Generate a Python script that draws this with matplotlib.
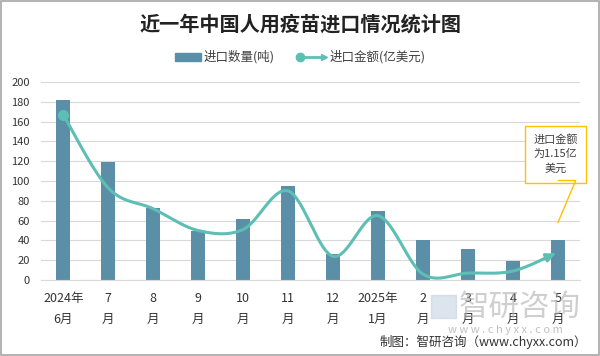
import numpy as np
import matplotlib
matplotlib.use("Agg")
import matplotlib.pyplot as plt
from matplotlib.patches import Rectangle, Polygon
from matplotlib.lines import Line2D

plt.rcParams['font.family'] = ['Noto Sans CJK SC', 'DejaVu Sans']

# data
months = ["2024年\n6月", "7\n月", "8\n月", "9\n月", "10\n月", "11\n月", "12\n月",
          "2025年\n1月", "2\n月", "3\n月", "4\n月", "5\n月"]
qty = [182, 119, 73, 50, 62, 95, 26, 70, 40, 31, 19, 40]          # 进口数量(吨)
amount = [167, 93, 72, 50, 51, 90, 24, 65, 6, 7, 9, 28]           # 进口金额 curve (as drawn)

BAR_C = "#5B8FA8"
LINE_C = "#5DBFB4"


def smooth(xs, ys, n=30):
    # Catmull-Rom spline, only for drawing the smoothed line
    p = np.column_stack([xs, ys]).astype(float)
    p = np.vstack([p[0], p, p[-1]])
    out = []
    for i in range(1, len(p) - 2):
        p0, p1, p2, p3 = p[i - 1], p[i], p[i + 1], p[i + 2]
        t = np.linspace(0, 1, n, endpoint=False)[:, None]
        seg = 0.5 * ((2 * p1) + (-p0 + p2) * t + (2 * p0 - 5 * p1 + 4 * p2 - p3) * t ** 2
                     + (-p0 + 3 * p1 - 3 * p2 + p3) * t ** 3)
        out.append(seg)
    out.append(p[-2][None, :])
    out = np.vstack(out)
    return out[:, 0], out[:, 1]


def fy(py):
    # pixel row (from top) -> figure fraction
    return 1 - py / 356


fig = plt.figure(figsize=(6, 3.56), dpi=100)
ax = fig.add_axes([0.068, 0.2135, 0.899, 0.556])

x = np.arange(len(months))
ax.bar(x, qty, width=0.31, color=BAR_C, zorder=2)

sx, sy = smooth(x, amount)
ax.plot(sx[:-6], sy[:-6], color=LINE_C, lw=2.2, solid_capstyle="round", zorder=3)
ax.annotate("", xy=(x[-1], amount[-1]), xytext=(sx[-8], sy[-8]),
            arrowprops=dict(arrowstyle="-|>,head_length=0.5,head_width=0.25",
                            color=LINE_C, lw=2.2), zorder=3)
ax.plot([x[0]], [amount[0]], "o", color=LINE_C, ms=7, zorder=4)

ax.set_xlim(-0.5, len(months) - 0.5)
ax.set_ylim(0, 200)
ax.set_yticks(range(0, 201, 20))
ax.set_xticks(x)
ax.set_xticklabels(months, fontsize=9, color="#333333", linespacing=1.75)
ax.tick_params(axis="y", labelsize=8, colors="#333333", length=0, pad=8)
ax.tick_params(axis="x", length=0, pad=9)
ax.grid(axis="y", color="#D9D9D9", lw=0.8, zorder=0)
for s in ["top", "right", "left"]:
    ax.spines[s].set_visible(False)
ax.spines["bottom"].set_color("#D9D9D9")

# callout box
ax.text(x[-1] - 0.05, 127, "进口金额\n为1.15亿\n美元", ha="center", va="center",
        fontsize=8, color="#404040", linespacing=1.5,
        bbox=dict(boxstyle="square,pad=0.75", fc="white", ec="#FFC000", lw=1), zorder=5)
ax.add_patch(Polygon([[x[-1], 100.5], [x[-1] + 0.4, 100.5], [x[-1], 57.5]],
                     closed=False, fill=False, ec="#FFC000", lw=1, zorder=5))

# title
fig.text(300.5 / 600, fy(24), "近一年中国人用疫苗进口情况统计图", ha="center", va="center",
         fontsize=14.5, fontweight="bold", color="#222222")

# legend drawn by hand
fig.patches.append(Rectangle((175 / 600, fy(61)), 26 / 600, 8 / 356,
                             transform=fig.transFigure, color=BAR_C))
fig.text(204 / 600, fy(57), "进口数量(吨)", fontsize=9, va="center", color="#404040")
fig.lines.append(Line2D([299 / 600, 322 / 600], [fy(57)] * 2, transform=fig.transFigure,
                        color=LINE_C, lw=2))
fig.lines.append(Line2D([300 / 600], [fy(57)], transform=fig.transFigure,
                        marker="o", ms=6, color=LINE_C))
fig.lines.append(Line2D([324 / 600], [fy(57)], transform=fig.transFigure,
                        marker=">", ms=5, color=LINE_C))
fig.text(330 / 600, fy(57), "进口金额(亿美元)", fontsize=9, va="center", color="#404040")

# watermark
fig.patches.append(Rectangle((431 / 600, fy(318)), 25 / 600, 23 / 356,
                             transform=fig.transFigure, color="#C5D3E3", alpha=0.6))
fig.text(459 / 600, fy(307), "智研咨询", fontsize=22, color="#B0B0B0", alpha=0.6,
         va="center")
fig.text(505 / 600, fy(330), "w w w . c h y x x . c o m", fontsize=8, color="#C0C0C0",
         ha="center", va="center")

# source
fig.text(587 / 600, fy(342), "制图：智研咨询（www.chyxx.com）", fontsize=9, color="#333333",
         ha="right", va="center")

# frame
fig.patches.append(Rectangle((0.001, 0.002), 0.997, 0.996, transform=fig.transFigure,
                             fill=False, ec="#A6A6A6", lw=1.2))

fig.savefig("out.png", dpi=100)
